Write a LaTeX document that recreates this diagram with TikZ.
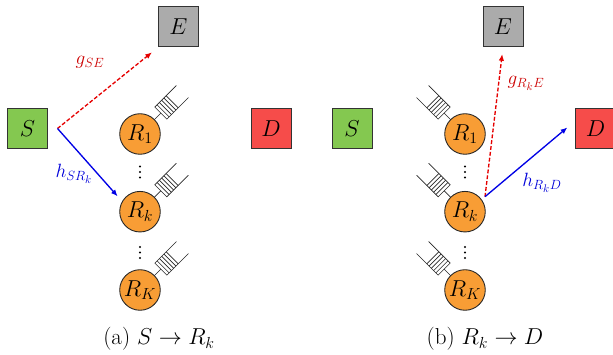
\documentclass[tikz,border=0pt]{standalone}
\usepackage{amsmath,amssymb}
\usetikzlibrary{arrows.meta,calc}
\definecolor{srcgreen}{HTML}{84C850}
\definecolor{eavegray}{HTML}{ABABAB}
\definecolor{dstred}{HTML}{F64C4A}
\definecolor{relayorange}{HTML}{F89D35}
\begin{document}
\begin{tikzpicture}[x=0.9pt, y=0.9pt, font=\huge,
  termbox/.style={draw=black!80, line width=0.9pt, minimum size=36pt, inner sep=0pt},
  srcbox/.style={termbox, fill=srcgreen},
  evebox/.style={termbox, fill=eavegray},
  dstbox/.style={termbox, fill=dstred},
  relay/.style={circle, draw=black!85, line width=0.8pt, fill=relayorange, minimum size=36.5pt, inner sep=0pt},
  buffer/.style={line width=0.6pt, black!85},
  mainlink/.style={blue!90!black, line width=1.2pt, -{Latex[length=6pt,width=5pt]}},
  wiretap/.style={red!90!black, line width=1.2pt, dash pattern=on 3.5pt off 1.8pt, -{Latex[length=6pt,width=5pt]}},
  linklabel/.style={inner sep=0pt, font=\LARGE}]
\useasboundingbox (0,0) rectangle (613,355);

% relays with their buffers
\foreach \panel/\xpos/\ang in {a/140/45, b/465/135} {
  \foreach \id/\ypos/\sub in {1/221/1, k/143.3/k, K/65/K} {
    \node[relay] (R\panel\id) at (\xpos,\ypos) {$R_{\sub}$};
    \begin{scope}[shift={(\xpos,\ypos)}, rotate=\ang]
      \draw[buffer] (20.5,0) -- (29.5,0);
      \draw[buffer] (60,8.5) -- (29.5,8.5) -- (29.5,-8.5) -- (60,-8.5);
      \foreach \d in {32.7,35.9,39.1,42.3,45.5}
        \draw[buffer] (\d,8.5) -- (\d,-8.5);
    \end{scope}
  }
  \foreach \d in {0,5.5,11} {
    \fill (\xpos,177.5+\d) circle (1.2);
    \fill (\xpos,97+\d) circle (1.2);
  }
}

% panel (a)
\node[srcbox] (Sa) at (27.5,226.5) {$S$};
\node[evebox] (Ea) at (178.5,328) {$E$};
\node[dstbox] (Da) at (271,226.5) {$D$};
\coordinate (txa) at ($(Sa.east)+(9.5,0)$);
\draw[wiretap, shorten >=7pt] (txa) -- (Ea.south west);
\draw[mainlink, shorten >=6pt] (txa) -- (Rak.150);
\node[linklabel, text=red!80!black] (gSE) at (90,293) {$g_{SE}$};
\node[linklabel, text=blue!85!black] (hSR) at (74,181) {$h_{SR_k}$};
\node (capa) at (159,16) {(a) $S \rightarrow R_k$};

% panel (b)
\node[srcbox] (Sb) at (352,226.5) {$S$};
\node[evebox] (Eb) at (503,328) {$E$};
\node[dstbox] (Db) at (595.5,226.5) {$D$};
\coordinate (txb) at ($(Rbk)+(20,15)$);
\draw[wiretap, shorten >=6pt] (txb) -- (Eb.south);
\draw[mainlink, shorten >=9pt] (txb) -- (Db.160);
\node[linklabel, text=red!80!black] (gRE) at (526,272) {$g_{R_kE}$};
\node[linklabel, text=blue!85!black] (hRD) at (542,172) {$h_{R_kD}$};
\node (capb) at (485,16) {(b) $R_k \rightarrow D$};
\end{tikzpicture}
\end{document}
